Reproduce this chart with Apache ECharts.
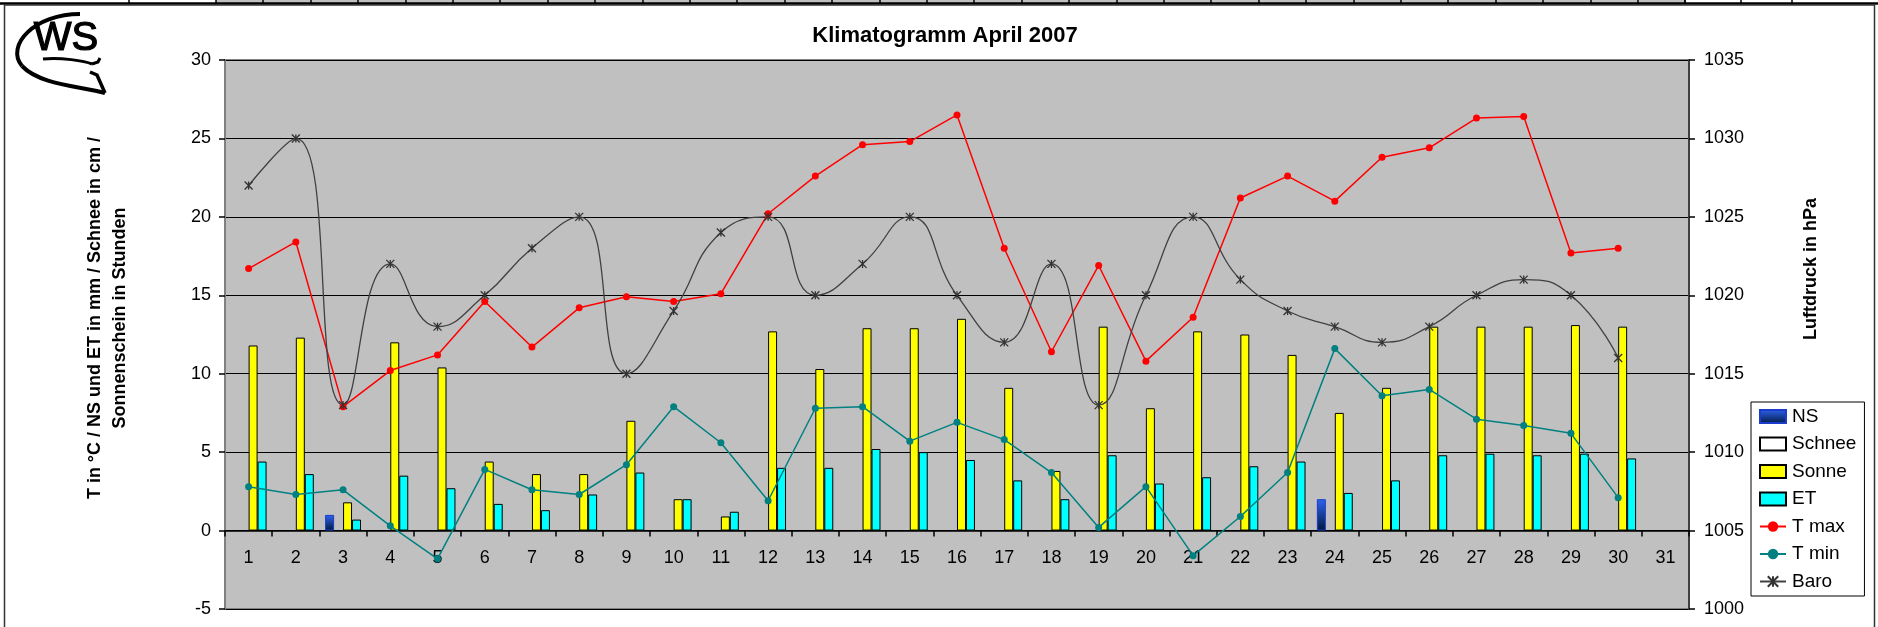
<!DOCTYPE html>
<html>
<head>
<meta charset="utf-8">
<script src="https://cdn.jsdelivr.net/npm/echarts@6/dist/echarts.min.js"></script>
<style>
html,body{margin:0;padding:0;background:#fff;}
#chart{width:1878px;height:627px;}
</style>
</head>
<body>
<div id="chart"></div>
<script>
// ---- data ----
const days = ['1','2','3','4','5','6','7','8','9','10','11','12','13','14','15','16','17','18','19','20','21','22','23','24','25','26','27','28','29','30','31'];
const ns     = [null,null,1.0,null,null,null,null,null,null,null,null,null,null,null,null,null,null,null,null,null,null,null,null,2.0,null,null,null,null,null,null,null];
const schnee = [null,null,null,null,null,null,null,null,null,null,null,null,null,null,null,null,null,null,null,null,null,null,null,null,null,null,null,null,null,null,null];
const sonne  = [11.8,12.3,1.8,12.0,10.4,4.4,3.6,3.6,7.0,2.0,0.9,12.7,10.3,12.9,12.9,13.5,9.1,3.8,13.0,7.8,12.7,12.5,11.2,7.5,9.1,13.0,13.0,13.0,13.1,13.0,null];
const et     = [4.4,3.6,0.7,3.5,2.7,1.7,1.3,2.3,3.7,2.0,1.2,4.0,4.0,5.2,5.0,4.5,3.2,2.0,4.8,3.0,3.4,4.1,4.4,2.4,3.2,4.8,4.9,4.8,4.9,4.6,null];
const tmax   = [16.7,18.4,7.9,10.2,11.2,14.6,11.7,14.2,14.9,14.6,15.1,20.2,22.6,24.6,24.8,26.5,18.0,11.4,16.9,10.8,13.6,21.2,22.6,21.0,23.8,24.4,26.3,26.4,17.7,18.0,null];
const tmin   = [2.8,2.3,2.6,0.3,-1.8,3.9,2.6,2.3,4.2,7.9,5.6,1.9,7.8,7.9,5.7,6.9,5.8,3.7,0.2,2.8,-1.6,0.9,3.7,11.6,8.6,9.0,7.1,6.7,6.2,2.1,null];
const baro   = [1027,1030,1013,1022,1018,1020,1023,1025,1015,1019,1024,1025,1020,1022,1025,1020,1017,1022,1013,1020,1025,1021,1019,1018,1017,1018,1020,1021,1020,1016,null];

const leftAxisRange  = [-5, 30, 5];
const rightAxisRange = [1000, 1035, 5];
const titleText = 'Klimatogramm April 2007';
const leftAxisTitle = 'T in °C / NS und ET in mm / Schnee in cm /\nSonnenschein in Stunden';
const rightAxisTitle = 'Luftdruck in hPa';

// ---- chart ----
const FF = '"Liberation Sans", Arial, sans-serif';
const chart = echarts.init(document.getElementById('chart'), null, {renderer: 'canvas'});

const GRID_TOP = 60, GRID_BOTTOM = 18, CHART_H = 627;
const plotH = CHART_H - GRID_TOP - GRID_BOTTOM;
// distance of the zero line above the bottom of the plot, via the axis range
const zeroOffset = plotH * (0 - leftAxisRange[0]) / (leftAxisRange[1] - leftAxisRange[0]);

const star = 'path://M0,0L10,10M10,0L0,10M5,0L5,10';

// decorative spreadsheet strip + frame + logo
const deco = [];
deco.push({type:'rect', shape:{x:216,y:0,width:1469,height:3}, style:{fill:'#C0C0C0'}, silent:true});
const cellX = [129, 216];
for (let x = 216 + 47.4; x < 1686; x += 47.4) cellX.push(Math.round(x));
cellX.push(1685, 1741, 1792);
cellX.forEach(x => deco.push({type:'line', shape:{x1:x,y1:0,x2:x,y2:4}, style:{stroke:'#000', lineWidth:1.5}, silent:true}));
deco.push({type:'line', shape:{x1:0,y1:3.5,x2:1878,y2:3.5}, style:{stroke:'#000', lineWidth:2.5}, silent:true});
deco.push({type:'rect', shape:{x:4.5,y:5,width:1870,height:700}, style:{fill:'none', stroke:'#333', lineWidth:1.5}, silent:true});
// logo
deco.push({type:'text', x:66, y:39, style:{text:'WS', font:'40px ' + FF, fill:'#000', stroke:'#000', lineWidth:1.2, textAlign:'center', textVerticalAlign:'middle'}, silent:true});
deco.push({type:'bezierCurve', shape:{x1:80,y1:14,cpx1:35,cpy1:14,cpx2:5,cpy2:45,x2:22,y2:66}, style:{stroke:'#000', lineWidth:4, fill:'none'}, silent:true});
deco.push({type:'bezierCurve', shape:{x1:22,y1:66,cpx1:40,cpy1:85,cpx2:80,cpy2:86,x2:105,y2:93}, style:{stroke:'#000', lineWidth:4, fill:'none'}, silent:true});
deco.push({type:'polyline', shape:{points:[[105,93],[97,75],[90,72]]}, style:{stroke:'#000', lineWidth:3.5, fill:'none'}, silent:true});
deco.push({type:'bezierCurve', shape:{x1:43,y1:59,cpx1:60,cpy1:57,cpx2:85,cpy2:61,x2:92,y2:64}, style:{stroke:'#000', lineWidth:3, fill:'none'}, silent:true});
deco.push({type:'polyline', shape:{points:[[92,64],[98,62],[100,58]]}, style:{stroke:'#000', lineWidth:3, fill:'none'}, silent:true});
// axis titles
deco.push({type:'text', x:108, y:318, rotation:Math.PI/2, style:{text:leftAxisTitle, font:'bold 18px ' + FF, lineHeight:25, fill:'#000', textAlign:'center', textVerticalAlign:'middle'}, silent:true});
deco.push({type:'text', x:1811, y:269, rotation:Math.PI/2, style:{text:rightAxisTitle, font:'bold 18px ' + FF, fill:'#000', textAlign:'center', textVerticalAlign:'middle'}, silent:true});

const barBase = {type:'bar', barGap:'0%', barCategoryGap:'24%', yAxisIndex:0};

const option = {
  animation: false,
  backgroundColor: '#fff',
  textStyle: {fontFamily: FF, color:'#000'},
  title: {
    text: titleText, left: 940, top: 20, textAlign: 'center',
    textStyle: {fontSize: 22, fontWeight: 'bold', color: '#000', fontFamily: FF}
  },
  legend: {
    orient: 'vertical', left: 1751, top: 402,
    backgroundColor: '#fff', borderColor: '#000', borderWidth: 1,
    padding: [5, 8, 5, 8], itemWidth: 26, itemHeight: 13, itemGap: 8.5,
    textStyle: {fontSize: 19, color: '#000', fontFamily: FF, padding:[0,0,0,1]},
    data: [
      {name:'NS', icon:'rect'}, {name:'Schnee', icon:'rect'}, {name:'Sonne', icon:'rect'}, {name:'ET', icon:'rect'},
      'T max', 'T min', 'Baro'
    ]
  },
  grid: {
    left: 225, right: 189, top: GRID_TOP, bottom: GRID_BOTTOM,
    show: true, backgroundColor: '#C0C0C0', borderColor: '#808080', borderWidth: 2
  },
  xAxis: {
    type: 'category', data: days, boundaryGap: true, position: 'bottom',
    offset: -zeroOffset,
    axisLine: {onZero: false, lineStyle: {color:'#000', width: 1.5}},
    axisTick: {show: true, length: 6, inside: false, lineStyle: {color:'#000', width:1.5}},
    axisLabel: {fontSize: 18, color:'#000', margin: 18, fontFamily: FF},
    splitLine: {show: false}
  },
  yAxis: [
    {
      type: 'value', position: 'left', min: leftAxisRange[0], max: leftAxisRange[1], interval: leftAxisRange[2],
      axisLine: {show: true, lineStyle: {color: '#808080', width: 2}},
      axisTick: {show: true, length: 6, lineStyle: {color:'#000', width:1.5}},
      axisLabel: {fontSize: 18, color:'#000', margin: 14, fontFamily: FF, formatter: v => String(v)},
      splitLine: {show: true, lineStyle: {color: '#000', width: 1.2}}
    },
    {
      type: 'value', position: 'right', min: rightAxisRange[0], max: rightAxisRange[1], interval: rightAxisRange[2],
      axisLine: {show: true, lineStyle: {color: '#404040', width: 2}},
      axisTick: {show: true, length: 6, lineStyle: {color:'#000', width:1.5}},
      axisLabel: {fontSize: 18, color:'#000', margin: 15, fontFamily: FF, formatter: v => String(v)},
      splitLine: {show: false}
    }
  ],
  series: [
    Object.assign({}, barBase, {name:'NS', data: ns,
      itemStyle: {color: new echarts.graphic.LinearGradient(0,0,0,1,[{offset:0,color:'#2F64F0'},{offset:1,color:'#001A40'}]), borderColor:'#1C3CCC', borderWidth:1}}),
    Object.assign({}, barBase, {name:'Schnee', data: schnee,
      itemStyle: {color:'#fff', borderColor:'#000', borderWidth:1}}),
    Object.assign({}, barBase, {name:'Sonne', data: sonne,
      itemStyle: {color:'#FFFF00', borderColor:'#000', borderWidth:1}}),
    Object.assign({}, barBase, {name:'ET', data: et,
      itemStyle: {color:'#00FFFF', borderColor:'#000', borderWidth:1}}),
    {type:'line', name:'T max', data: tmax, yAxisIndex:0, symbol:'circle', symbolSize:7,
      itemStyle:{color:'#FF0000'}, lineStyle:{color:'#FF0000', width:1.5}, z:4},
    {type:'line', name:'T min', data: tmin, yAxisIndex:0, symbol:'circle', symbolSize:7,
      itemStyle:{color:'#008080'}, lineStyle:{color:'#008080', width:1.5}, z:4},
    {type:'line', name:'Baro', data: baro, yAxisIndex:1, smooth: 0.5, symbol: star, symbolSize:8,
      itemStyle:{color:'#333', borderColor:'#333', borderWidth:1.3}, lineStyle:{color:'#404040', width:1.3}, z:4}
  ],
  graphic: deco
};
chart.setOption(option);
</script>
</body>
</html>
